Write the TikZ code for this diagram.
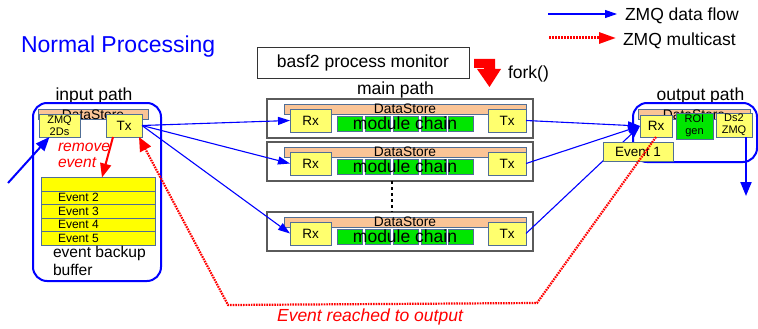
\documentclass[tikz,border=0pt]{standalone}
\usepackage{fontspec}
\setmainfont{Liberation Sans}
\usetikzlibrary{arrows.meta}

\newcommand\fsz[2]{\fontsize{#1}{#2}\selectfont}

\definecolor{flowblue}{RGB}{0,0,255}
\definecolor{castred}{RGB}{255,0,0}
\definecolor{storepeach}{RGB}{250,196,150}
\definecolor{boxyellow}{RGB}{255,255,110}
\definecolor{bufyellow}{RGB}{255,255,0}
\definecolor{modgreen}{RGB}{0,230,0}
\definecolor{celledge}{RGB}{80,110,150}
\definecolor{framegray}{RGB}{90,90,90}

\tikzset{
  every node/.style={inner sep=0pt, outer sep=0pt},
  lbl/.style={font=\fsz{17.5}{21}},
  procbox/.style={draw=framegray, line width=1.3pt, fill=white},
  pathbox/.style={draw=flowblue, line width=2pt, rounded corners=14pt},
  store/.style={draw=celledge, line width=0.6pt, fill=storepeach, font=\fsz{13.8}{14}},
  cell/.style={draw=celledge, line width=0.8pt, fill=boxyellow, font=\fsz{13.5}{14}},
  module/.style={draw=celledge, line width=0.6pt, fill=modgreen, minimum width=25pt, minimum height=15pt},
  bufrow/.style={draw=celledge, line width=0.8pt, fill=bufyellow, minimum width=114pt, minimum height=13.5pt},
  bufev/.style={font=\fsz{12}{12}, anchor=west},
  flow/.style={draw=flowblue, line width=1.1pt, -{Triangle[length=12pt,width=8pt]}},
  thickflow/.style={draw=flowblue, line width=2pt, -{Triangle[length=14pt,width=11pt]}},
  cast/.style={draw=castred, line width=2.2pt, dash pattern=on 1.6pt off 1pt, -{Triangle[length=14pt,width=12pt]}},
}

\begin{document}
\begin{tikzpicture}[x=1pt, y=-1pt]
\useasboundingbox (0,0) rectangle (758,329);

% title
\node[font=\fsz{23}{26}, text=flowblue, anchor=base west] (title) at (21,53) {Normal Processing};

% legend
\coordinate (legflowA) at (548,14);
\coordinate (legflowB) at (617,14);
\draw[flow] (legflowA) -- (legflowB);
\node[lbl, anchor=base west] (legflow) at (625,21) {ZMQ data flow};
\coordinate (legcastA) at (549,38);
\coordinate (legcastB) at (616,38);
\draw[draw=castred, line width=3pt, dash pattern=on 2pt off 1pt, -{Triangle[length=17pt,width=11pt]}] (legcastA) -- (legcastB);
\node[lbl, anchor=base west] (legcast) at (623,45.5) {ZMQ multicast};

% process monitor and fork
\node[draw=black!80, line width=0.9pt, minimum width=212pt, minimum height=31pt, lbl] (monitor) at (363,62.5) {basf2 process monitor};
\fill[castred] (474,59) -- (495,59) -- (495,69) -- (501,69) -- (489.5,87) -- (477,69) -- (484,69) -- (484,68) -- (474,68) -- cycle;
\node[lbl, anchor=base west] (fork) at (508,78) {fork()};

% headings
\node[lbl, anchor=base] (mainlbl) at (395.5,95) {main path};
\node[lbl, anchor=base] (inlbl) at (94,100) {input path};
\node[lbl, anchor=base] (outlbl) at (700.5,100.5) {output path};

% worker processes of the main path
\foreach \i/\dy in {1/0,2/43,3/113}{
  \node[procbox, minimum width=266pt, minimum height=39pt] (main\i) at (400,118.5+\dy) {};
  \node[store, minimum width=242pt, minimum height=10pt] (ds\i) at (405,109+\dy) {DataStore};
  \node[cell, minimum width=41pt, minimum height=23pt] (rx\i) at (310.5,120.5+\dy) {Rx};
  \node[cell, minimum width=38pt, minimum height=23pt] (tx\i) at (507,120.5+\dy) {Tx};
  \foreach \k/\mx in {1/349.5,2/378,3/405.5,4/433.5,5/461}{
    \node[module] (mod\i\k) at (\mx,123.5+\dy) {};
  }
  \node[lbl] (chain\i) at (405,123+\dy) {module chain};
}
\draw[line width=2.5pt, dash pattern=on 2.5pt off 3.5pt] ([xshift=-8pt]main2.south) -- ([xshift=-8pt]main3.north);

% input path
\node[pathbox, minimum width=128pt, minimum height=178pt] (inpath) at (97,192) {};
\node[store, minimum width=110pt, minimum height=9pt] (inds) at (93,114.5) {DataStore};
\node[cell, minimum width=41pt, minimum height=23pt, font=\fsz{11}{11.5}, align=center] (zmqin) at (59.5,125.5) {ZMQ\\2Ds};
\node[cell, minimum width=36pt, minimum height=23pt] (txin) at (124,125.5) {Tx};
\node[bufrow] (buf0) at (98,184.25) {};
\node[bufrow] (buf1) at (98,197.75) {};
\node[bufrow] (buf2) at (98,211.25) {};
\node[bufrow] (buf3) at (98,224.75) {};
\node[bufrow] (buf4) at (98,238.25) {};
\node[bufev] (ev2) at (58,197.75) {Event 2};
\node[bufev] (ev3) at (58,211.25) {Event 3};
\node[bufev] (ev4) at (58,224.75) {Event 4};
\node[bufev] (ev5) at (58,238.25) {Event 5};
\node[font=\fsz{15.6}{18}, align=left, anchor=north west] (buflbl) at (53,246.6) {event backup\\buffer};
\node[font=\fsz{15.6}{16}\itshape, text=castred, align=left, anchor=north west] (rmlbl) at (58,143) {remove\\event};

% output path
\node[pathbox, minimum width=124pt, minimum height=59pt] (outpath) at (695,132.5) {};
\node[store, minimum width=112pt, minimum height=9pt] (outds) at (694,114.5) {DataStore};
\node[cell, minimum width=32pt, minimum height=22pt] (outrx) at (656,126) {Rx};
\node[module, minimum width=37pt, minimum height=26pt, font=\fsz{11}{12}, align=center] (roi) at (694.5,126) {ROI\\gen};
\node[cell, minimum width=36pt, minimum height=24pt, font=\fsz{11}{12}, align=center] (dszmq) at (734,125) {Ds2\\ZMQ};

% data flow
\coordinate (inext) at (8,183);
\draw[thickflow] (inext) -- ([xshift=-10pt]zmqin.south);
\foreach \i in {1,2,3}{
  \draw[flow] (txin.east) -- (rx\i.west);
  \draw[flow] (tx\i.east) -- (outrx.west);
}
\coordinate (outext) at (746,196);
\draw[thickflow] ([xshift=12pt]dszmq.south) -- (outext);

\node[cell, minimum width=70pt, minimum height=19pt] (ev1) at (638,151.5) {Event 1};

% event removal and multicast acknowledgement
\draw[castred, line width=2pt, -{Triangle[length=14pt,width=11pt]}] ([xshift=-11pt]txin.south) -- ([xshift=4pt]buf0.north);
\coordinate (castA) at (537,303);
\coordinate (castB) at (228,305);
\draw[cast] (outrx.south) -- (castA) -- (castB) -- ([xshift=-3pt]txin.south east);
\node[font=\fsz{17.5}{20}\itshape, text=castred, anchor=base] (castlbl) at (370,321) {Event reached to output};
\end{tikzpicture}
\end{document}
